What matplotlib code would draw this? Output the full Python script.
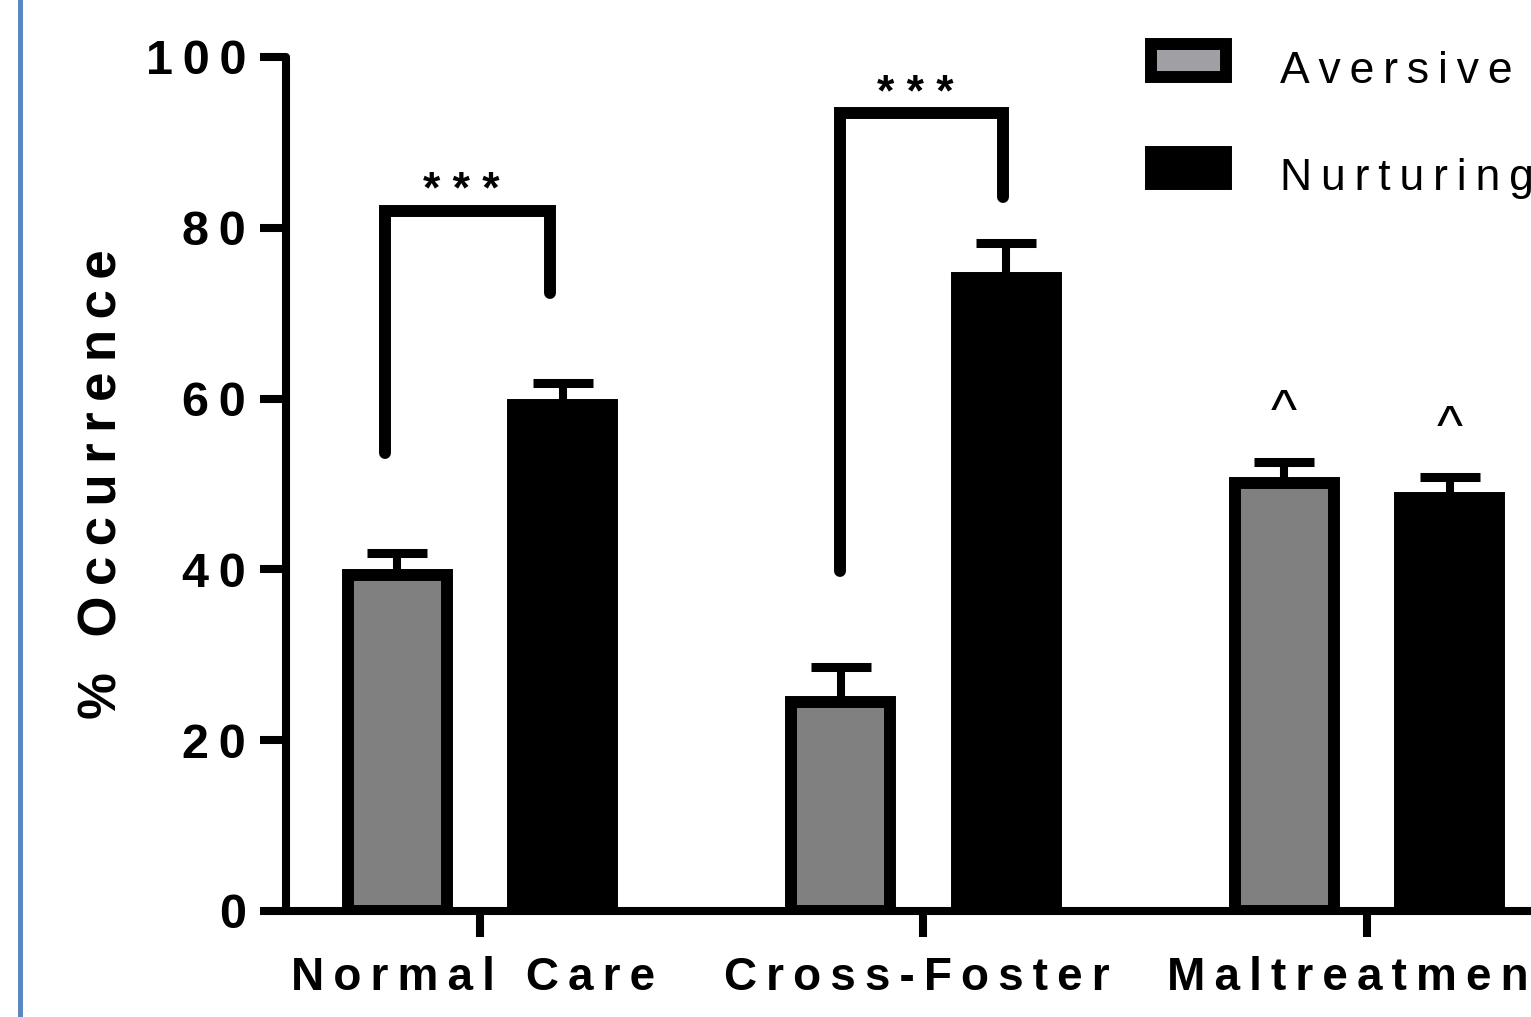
import matplotlib
matplotlib.use('Agg')
import matplotlib.pyplot as plt
import matplotlib.transforms as mtransforms
from matplotlib.lines import Line2D
from matplotlib.patches import Rectangle
import numpy as np

plt.rcParams['font.family'] = ['Liberation Sans', 'DejaVu Sans']

# data
groups = ['Normal Care', 'Cross-Foster', 'Maltreatment']
aversive = [39.4, 24.5, 50.1]
aversive_sem = [2.5, 4.1, 2.5]
nurturing = [59.3, 74.1, 48.4]
nurturing_sem = [2.5, 4.1, 2.4]
yticks = [0, 20, 40, 60, 80, 100]

# significance brackets: x of the two legs, y of left leg end, top, right leg end
bracket_x = [[-0.214, 0.158], [0.812, 1.179]]
bracket_y = [[53.6, 82.0, 72.4], [39.8, 93.4, 83.6]]
bracket_label = ['***', '***']


def track(s):
    # fake letter spacing with thin spaces
    return '\u2009'.join(s)


W, H = 1531, 1017
fig = plt.figure(figsize=(W / 100, H / 100), dpi=100)

x = np.arange(len(groups))
offset = 0.187
width = 0.223

ax_left, ax_bottom, ax_top = 286, 911, 57
x_lo, x_hi = -0.4374, 2.6
px_per_unit = 443.5
ax_w = (x_hi - x_lo) * px_per_unit
ax = fig.add_axes([ax_left / W, 1 - ax_bottom / H, ax_w / W, (ax_bottom - ax_top) / H])

ax.bar(x - offset, aversive, width, color='#808080', edgecolor='black', linewidth=8.6, zorder=3)
ax.bar(x + offset, nurturing, width, color='black', edgecolor='black', linewidth=8.6, zorder=3)
ax.errorbar(x - offset, aversive, yerr=[np.zeros(3), aversive_sem], fmt='none',
            ecolor='black', elinewidth=5.8, capsize=21.6, capthick=6.5, zorder=2)
ax.errorbar(x + offset, nurturing, yerr=[np.zeros(3), nurturing_sem], fmt='none',
            ecolor='black', elinewidth=5.8, capsize=21.6, capthick=6.5, zorder=2)

for bx, by, lab in zip(bracket_x, bracket_y, bracket_label):
    ax.plot([bx[0], bx[0], bx[1], bx[1]], [by[0], by[1], by[1], by[2]], color='black',
            linewidth=8.6, solid_capstyle='round', solid_joinstyle='miter', zorder=4)
    ax.text((bx[0] + bx[1]) / 2 - 0.015, by[1] + 0.9, ' '.join(lab), ha='center', va='baseline',
            fontsize=32, fontweight='bold')

# ^ marks over the maltreatment bars
ax.text(x[2] - offset, aversive[2] + aversive_sem[2] + 2.5, '^', ha='center', va='bottom', fontsize=40)
ax.text(x[2] + offset, nurturing[2] + nurturing_sem[2] + 2.5, '^', ha='center', va='bottom', fontsize=40)

ax.set_xlim(x_lo, x_hi)
ax.set_ylim(0, 100)
ax.set_yticks(yticks)
ax.set_yticklabels([track(str(t)) for t in yticks], fontsize=35, fontweight='bold')
ax.set_xticks(x)
ax.set_xticklabels([track(g) for g in groups], fontsize=33, fontweight='bold')
ax.tick_params(axis='y', length=18.7, width=5.8, pad=10)
ax.tick_params(axis='x', length=18.7, width=5.8, pad=14)
# nudge the category labels a little left, as in the original
shift = mtransforms.ScaledTranslation(-7 / 100, 0, fig.dpi_scale_trans)
for lab in ax.get_xticklabels():
    lab.set_transform(lab.get_transform() + shift)
for s in ['top', 'right']:
    ax.spines[s].set_visible(False)
for s in ['left', 'bottom']:
    ax.spines[s].set_linewidth(5.8)
    ax.spines[s].set_capstyle('round')
ax.set_ylabel(track('% Occurrence'), fontsize=38, fontweight='bold', labelpad=13)

# legend drawn by hand to match the box sizes
def fx(p):
    return p / W


def fy(p):
    return 1 - p / H


fig.add_artist(Rectangle((fx(1151), fy(77)), fx(1226) - fx(1151), fy(44) - fy(77),
                         facecolor='#a0a0a4', edgecolor='black', linewidth=8.6,
                         transform=fig.transFigure))
fig.add_artist(Rectangle((fx(1151), fy(184)), fx(1226) - fx(1151), fy(152) - fy(184),
                         facecolor='black', edgecolor='black', linewidth=8.6,
                         transform=fig.transFigure))
fig.text(fx(1280), fy(83), track('Aversive'), fontsize=32, va='baseline', ha='left')
fig.text(fx(1280), fy(190), track('Nurturing'), fontsize=32, va='baseline', ha='left')

# blue rule at the left edge
fig.add_artist(Line2D([fx(19.5), fx(19.5)], [0, 1], color='#5b87c2', linewidth=3.6,
                      transform=fig.transFigure))

fig.savefig('out.png', dpi=100)
